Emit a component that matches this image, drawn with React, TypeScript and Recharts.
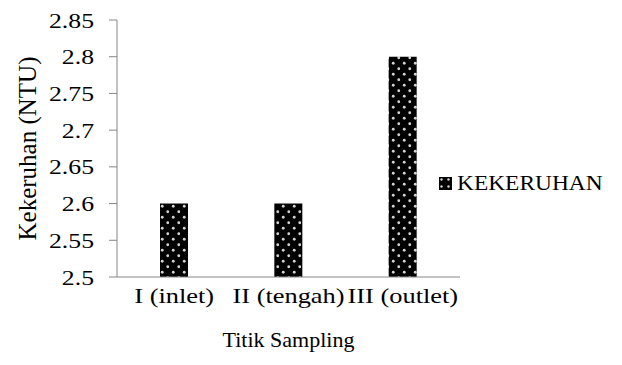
import React from 'react';
import { BarChart, Bar, XAxis, YAxis, Legend } from 'recharts';

const samplingPoints = ['I (inlet)', 'II (tengah)', 'III (outlet)'];
const turbidity = [2.6, 2.6, 2.8];
const yTicks = [2.5, 2.55, 2.6, 2.65, 2.7, 2.75, 2.8, 2.85];

const data = samplingPoints.map((name, i) => ({ name, kekeruhan: turbidity[i] }));

const FONT = 'Liberation Serif';
const AXIS = '#868686';

// text drawn slightly wider than its height, like the original export
const WideText = ({ x, y, sx = 1, anchor = 'middle', size, dy = 0, rotate = 0, children }: any) => (
  <text
    transform={`translate(${x} ${y}) rotate(${rotate}) scale(${sx} 1)`}
    x={0}
    y={0}
    dy={dy}
    textAnchor={anchor}
    fill="#000"
    fontSize={size}
    fontFamily={FONT}
  >
    {children}
  </text>
);

const DotPattern = ({ id }: { id: string }) => (
  <pattern id={id} width={11} height={11} patternUnits="userSpaceOnUse">
    <rect width={11} height={11} fill="#000" />
    <circle cx={2.75} cy={2.75} r={1.4} fill="#d4d4d4" />
    <circle cx={8.25} cy={8.25} r={1.4} fill="#d4d4d4" />
  </pattern>
);

const YTick = ({ x, y, payload }: any) => (
  <WideText x={x - 13} y={y} dy={7.5} sx={1.17} anchor="end" size={22}>
    {payload.value}
  </WideText>
);

const XTick = ({ x, payload }: any) => (
  <WideText x={x} y={303} sx={1.2} size={22}>
    {payload.value}
  </WideText>
);

const YTitle = ({ viewBox }: any) => (
  <WideText x={28} y={viewBox.y + viewBox.height / 2} dy={8} rotate={-90} size={25}>
    Kekeruhan (NTU)
  </WideText>
);

const XTitle = ({ viewBox }: any) => (
  <WideText x={viewBox.x + viewBox.width / 2} y={347} size={22}>
    Titik Sampling
  </WideText>
);

const renderLegend = () => (
  <div style={{ display: 'flex', alignItems: 'center', fontFamily: FONT, fontSize: 20, color: '#000' }}>
    <svg width={13} height={13} style={{ marginRight: 5 }}>
      <defs>
        <pattern id="legendDots" width={7} height={7} patternUnits="userSpaceOnUse">
          <rect width={7} height={7} fill="#000" />
          <circle cx={2.5} cy={2.5} r={1.2} fill="#d4d4d4" />
        </pattern>
      </defs>
      <rect width={13} height={13} fill="url(#legendDots)" />
    </svg>
    <span style={{ display: 'inline-block', transform: 'scaleX(1.17)', transformOrigin: 'left center' }}>
      KEKERUHAN
    </span>
  </div>
);

export default function App() {
  return (
    <div style={{ position: 'absolute', left: 0, top: 0, background: '#fff' }}>
      <BarChart
        width={622}
        height={365}
        data={data}
        barSize={28}
        margin={{ top: 20, right: 162, bottom: 0, left: 0 }}
      >
        <defs>
          <DotPattern id="barDots" />
        </defs>
        <YAxis
          domain={[2.5, 2.85]}
          ticks={yTicks}
          width={117}
          stroke={AXIS}
          tickSize={8}
          tick={<YTick />}
          label={<YTitle />}
        />
        <XAxis
          dataKey="name"
          height={88}
          stroke={AXIS}
          tickLine={false}
          tickSize={0}
          interval={0}
          tick={<XTick />}
          label={<XTitle />}
        />
        <Legend
          layout="horizontal"
          verticalAlign="middle"
          align="center"
          content={renderLegend}
          wrapperStyle={{ left: 439, top: 172, width: 'auto' }}
        />
        <Bar dataKey="kekeruhan" name="KEKERUHAN" fill="url(#barDots)" isAnimationActive={false} />
      </BarChart>
    </div>
  );
}
